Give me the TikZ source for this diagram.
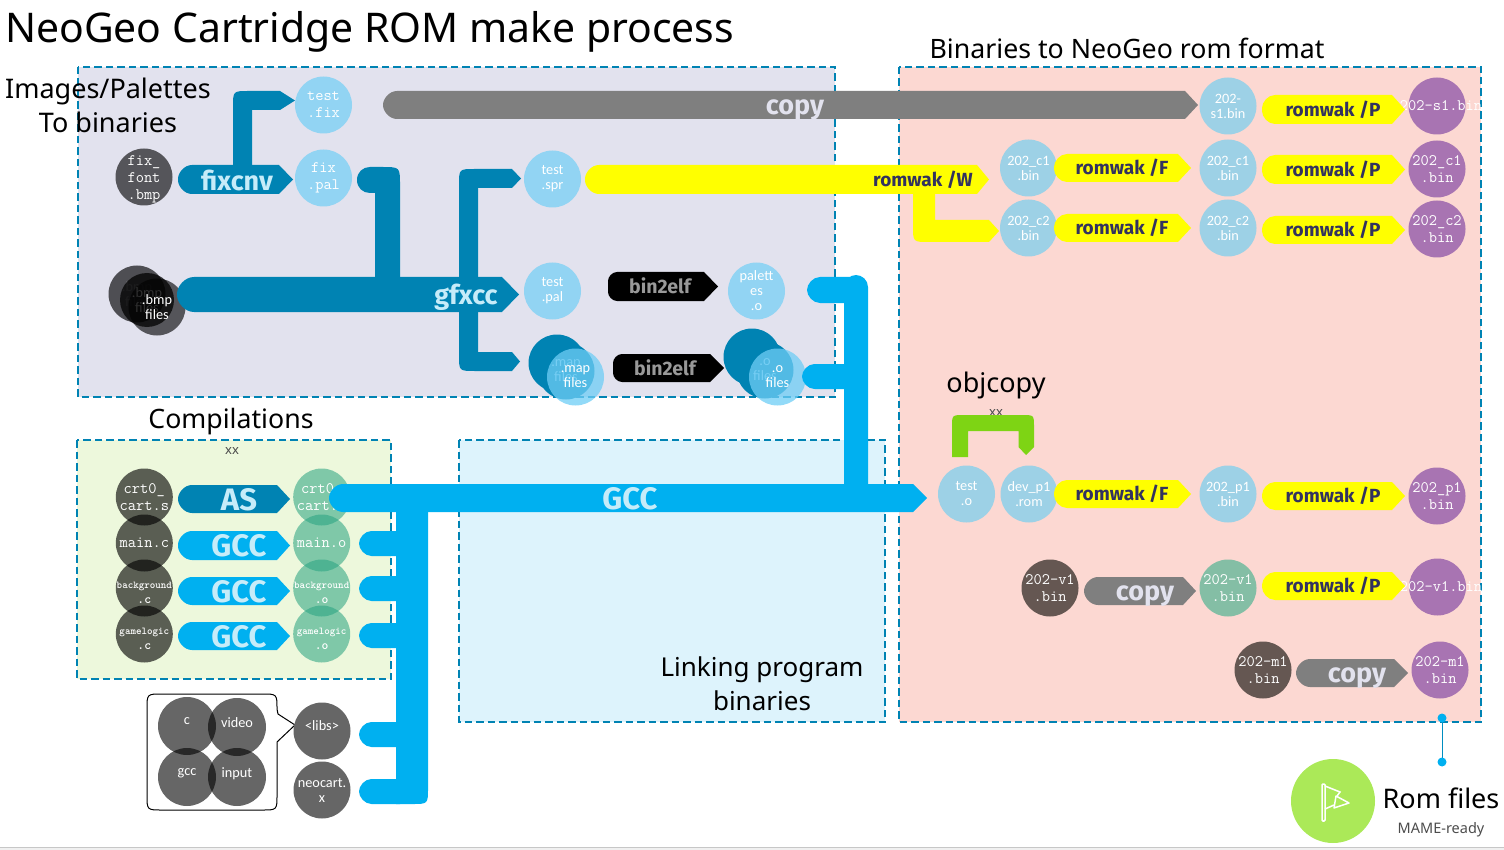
\documentclass[tikz,border=0pt]{standalone}
\usepackage{fontspec}
\setmainfont{Carlito}
\newfontfamily\titlef{Noto Sans}
\newfontfamily\handf{Fira Sans}[BoldFont=Fira Sans Bold]
\usetikzlibrary{calc}
\definecolor{bdeep}{HTML}{0083B3}
\definecolor{bsky}{HTML}{00B0F0}
\definecolor{bpale}{HTML}{92D4F3}
\definecolor{bsoft}{HTML}{9DD1E6}
\definecolor{purp}{HTML}{A874B2}
\definecolor{brn}{HTML}{655752}
\definecolor{grn}{HTML}{84BEA5}
\definecolor{gry}{HTML}{7F7F7F}
\definecolor{navy}{HTML}{32325F}
\definecolor{lim}{HTML}{7ED414}
\definecolor{yel}{HTML}{FFFF00}
\definecolor{pa}{HTML}{E2E2EE}
\definecolor{pb}{HTML}{FCD8D2}
\definecolor{pc}{HTML}{EDF8DC}
\definecolor{pd}{HTML}{DDF3FC}
\definecolor{lab}{HTML}{C6ECF9}
\definecolor{glass}{RGB}{110,205,245}
\definecolor{objg}{RGB}{41,164,129}
\definecolor{romg}{HTML}{ABE958}
\newcommand{\bigdot}[1]{{\fontsize{13}{15}\selectfont #1}}
\tikzset{
  panel/.style={draw=bdeep,line width=2.2pt,dash pattern=on 7.5pt off 4pt},
  bub/.style={circle,minimum size=57pt,inner sep=0pt,align=center,text=white,font=\fontsize{14.3}{15}\selectfont},
  mono/.style={bub,font=\ttfamily\fontsize{16}{17}\selectfont},
  monos/.style={inner sep=0pt,align=center,text=white,font=\ttfamily\bfseries\fontsize{10.5}{15}\selectfont},
  monot/.style={inner sep=0pt,align=center,text=white,font=\ttfamily\fontsize{16}{17}\selectfont},
  head/.style={font=\titlef\fontsize{27}{34}\selectfont,align=center,text=black,inner sep=0pt},
  hand/.style={font=\handf\bfseries\fontsize{31}{31}\selectfont,inner sep=0pt,text=lab},
  handm/.style={font=\handf\bfseries\fontsize{27}{27}\selectfont,inner sep=0pt,text=lab},
  bine/.style={font=\handf\bfseries\fontsize{19.5}{20}\selectfont,inner sep=0pt,text=black!40},
  handy/.style={font=\handf\bfseries\fontsize{19}{19}\selectfont,inner sep=0pt,text=navy},
  tiny/.style={font=\titlef\fontsize{13}{13}\selectfont,text=black!70,inner sep=0pt},
  dk/.style={fill=black,fill opacity=.62,text opacity=1},
  ob/.style={fill=objg,fill opacity=.56,text opacity=1},
}
% rounded-left block arrow: colour, x1, shoulder, tip, ytop, ybot, radius
\newcommand{\blockarrow}[7]{%
  \pgfmathsetmacro{\xa}{#2+#7}\pgfmathsetmacro{\xb}{#2+.45*#7}%
  \pgfmathsetmacro{\ymid}{(#5+#6)/2}%
  \pgfmathsetmacro{\yb}{#5+.55*#7}\pgfmathsetmacro{\yc}{#5+#7}%
  \pgfmathsetmacro{\yd}{#6-#7}\pgfmathsetmacro{\ye}{#6-.55*#7}%
  \fill[#1] (\xa,#5) -- (#3,#5) -- (#4,\ymid) -- (#3,#6) -- (\xa,#6)
    .. controls (\xb,#6) and (#2,\ye) .. (#2,\yd) -- (#2,\yc)
    .. controls (#2,\yb) and (\xb,#5) .. (\xa,#5) -- cycle;}
% bar with rounded left end: colour, x1, x2, ytop, ybot, radius
\newcommand{\capbar}[6]{%
  \pgfmathsetmacro{\xa}{#2+#6}\pgfmathsetmacro{\xb}{#2+.45*#6}%
  \pgfmathsetmacro{\yb}{#4+.55*#6}\pgfmathsetmacro{\yc}{#4+#6}%
  \pgfmathsetmacro{\yd}{#5-#6}\pgfmathsetmacro{\ye}{#5-.55*#6}%
  \fill[#1] (\xa,#4) -- (#3,#4) -- (#3,#5) -- (\xa,#5)
    .. controls (\xb,#5) and (#2,\ye) .. (#2,\yd) -- (#2,\yc)
    .. controls (#2,\yb) and (\xb,#4) .. (\xa,#4) -- cycle;}
\begin{document}
\begin{tikzpicture}[x=1pt,y=-1pt]
\useasboundingbox (0,0) rectangle (1504,850);
% bottom edge
\fill[black!6] (0,848) rectangle (1504,850);
\draw[black!22,line width=1pt] (0,847.5) -- (1504,847.5);
% panels
\draw[panel,fill=pa] (78,67) rectangle (835,397);
\draw[panel,fill=pb] (899,67) rectangle (1481,722);
\draw[panel,fill=pc] (77,440) rectangle (391,679);
\draw[panel,fill=pd] (459,440) rectangle (885,722);
% headings
\node[anchor=base west,font=\titlef\fontsize{40.9}{40}\selectfont,inner sep=0pt] (title) at (5,43) {NeoGeo Cartridge ROM make process};
\node[head] (himg) at (108,105) {Images/Palettes\\To binaries};
\node[head,font=\titlef\fontsize{26.7}{34}\selectfont] (hbin) at (1127,48) {Binaries to NeoGeo rom format};
\node[head,font=\titlef\fontsize{26.7}{34}\selectfont] (hcomp) at (231,422) {Compilations};
\node[head,font=\titlef\fontsize{26}{34}\selectfont] (hlink) at (762,684) {Linking program\\binaries};
\node[head] (hobj) at (996,385) {objcopy};
\node[tiny] (xxa) at (232,451) {xx};
\node[tiny] (xxb) at (996,413) {xx};
% image side circles
\node[bub,dk] (fixfont) at (144,177) {};
\node[monot] (fixfontt) at (144,179) {fix\_\\font\\.bmp};
\node[mono,fill=bpale] (testfix) at (323.5,105) {test\\.fix};
\node[mono,fill=bpale] (fixpal) at (323.5,178) {fix\\.pal};
\node[bub,fill=bpale] (testspr) at (552.5,179) {test\\.spr};
\node[bub,fill=bpale] (testpal) at (552.5,291) {test\\.pal};
\node[bub,fill=bpale] (palo) at (756.5,291) {palett\\es\\.o};
\node[bub,fill=black,fill opacity=.65,text opacity=.2] (bmpa) at (137,294) {.bmp\\files};
\node[bub,fill=black,fill opacity=.75,text opacity=.45,minimum size=54pt] (bmpb) at (147,300) {.bmp\\files};
\node[bub,fill=black,fill opacity=.62,text opacity=1] (bmpc) at (157,307) {.bmp\\files};
\node[bub,fill=bdeep] (mapa) at (557,363) {};
\node[bub,fill=bdeep,text opacity=1,text=bpale] (mapb) at (566,371) {.map\\files};
\node[bub,fill=glass,fill opacity=.75,text opacity=1] (mapc) at (575.5,377) {.map\\files};
\node[bub,fill=bdeep] (oa) at (752,357) {};
\node[bub,fill=bdeep,text=bpale] (ob) at (765,370) {.o\\files};
\node[bub,fill=glass,fill opacity=.75,text opacity=1] (oc) at (777.5,377) {.o\\files};
% compile circles
\node[mono,dk] (scrt) at (144.3,497) {crt0\_\\cart.s};
\node[mono,dk] (smain) at (144.3,543) {main.c};
\node[bub,dk] (sbg) at (144.3,588) {};
\node[monos] (sbgt) at (144.3,593) {background\\\bigdot{.c}};
\node[bub,dk] (sgl) at (144.3,634) {};
\node[monos] (sglt) at (144.3,638.5) {gamelogic\\\bigdot{.c}};
\node[mono,ob] (ocrt) at (321.7,497) {crt0\_\\cart.o};
\node[mono,ob] (omain) at (321.7,543) {main.o};
\node[bub,ob] (obg) at (321.7,588) {};
\node[monos] (obgt) at (321.7,593) {background\\\bigdot{.o}};
\node[bub,ob] (ogl) at (321.7,634) {};
\node[monos] (oglt) at (321.7,638.5) {gamelogic\\\bigdot{.o}};
% callout and libs
\draw[black,line width=1pt,fill=white] (162,694) -- (262,694) .. controls (277,694) .. (277,709) -- (278,714) -- (295,725) -- (277,742) -- (277,795) .. controls (277,810) .. (262,810) -- (162,810) .. controls (147,810) .. (147,795) -- (147,709) .. controls (147,694) .. (162,694) -- cycle;
\foreach \nm/\xx/\yy/\txt in {lc/187/726/c,lv/237/727/video,lg/187/777/gcc,li/237/777/input}{
  \node[bub,fill=black,fill opacity=.6,text opacity=1,minimum size=58pt] (\nm) at (\xx,\yy) {\raisebox{9pt}{\txt}};}
\node[bub,fill=black!60] (libs) at (322,731) {\raisebox{10pt}{<libs>}};
\node[bub,fill=black!60] (neo) at (322,790) {neocart.\\x};
% right side circles
\node[bub,fill=bsoft] (s1a) at (1228,106) {202-\\s1.bin};
\node[bub,fill=purp] (s1b) at (1437,106) {};
\node[monot] (s1bt) at (1441,106) {202-s1.bin};
\node[bub,fill=bsoft] (c1a) at (1028.5,168) {202\_c1\\.bin};
\node[bub,fill=bsoft] (c1b) at (1228,168) {202\_c1\\.bin};
\node[mono,fill=purp] (c1c) at (1437,169) {202\_c1\\.bin};
\node[bub,fill=bsoft] (c2a) at (1028.5,228) {202\_c2\\.bin};
\node[bub,fill=bsoft] (c2b) at (1228,228) {202\_c2\\.bin};
\node[mono,fill=purp] (c2c) at (1437,229) {202\_c2\\.bin};
\node[bub,fill=bsoft] (testo) at (966.5,494) {test\\.o};
\node[bub,fill=bsoft] (devp) at (1029,494) {dev\_p1\\.rom};
\node[bub,fill=bsoft] (p1a) at (1228,494) {202\_p1\\.bin};
\node[mono,fill=purp] (p1b) at (1437,496) {202\_p1\\.bin};
\node[mono,fill=brn] (v1a) at (1050,588) {202-v1\\.bin};
\node[mono,fill=grn] (v1b) at (1228,588) {202-v1\\.bin};
\node[bub,fill=purp] (v1c) at (1437.5,587) {};
\node[monot] (v1ct) at (1441,587) {202-v1.bin};
\node[mono,fill=brn] (m1a) at (1263,670) {202-m1\\.bin};
\node[mono,fill=purp] (m1b) at (1440,670) {202-m1\\.bin};
% fixcnv
\blockarrow{bdeep}{178}{279}{293}{165}{194}{14}
\fill[bdeep] (233,170) -- (233,107) .. controls (233,91) .. (249,91) -- (280,91) -- (295,100.5) -- (280,110) -- (252,110) -- (252,170) -- cycle;
\node[handm] (lfix) at (237,180) {fixcnv};
% gfxcc
\fill[bdeep] (357,180) .. controls (357,172) and (363,167) .. (370,167) -- (382,167) .. controls (400,167) .. (400,185) -- (400,280) -- (375,280) -- (375,193) -- (370,193) .. controls (363,193) and (357,188) .. (357,180) -- cycle;
\fill[bdeep] (459,280) -- (459,185) .. controls (459,169) .. (475,169) -- (512,169) -- (521,178.5) -- (512,188) -- (478,188) -- (478,280) -- cycle;
\fill[bdeep] (459,305) -- (459,355) .. controls (459,371) .. (475,371) -- (512,371) -- (520,361.5) -- (512,352) -- (478,352) -- (478,305) -- cycle;
\blockarrow{bdeep}{177}{502}{519}{277}{312}{17}
\node[handm] (lgfx) at (466,297) {gfxcc};
% bin2elf
\blockarrow{black}{608}{704}{718}{272}{301}{9}
\node[bine] (lba) at (660,286) {bin2elf};
\blockarrow{black}{613}{710}{724}{354}{382}{9}
\node[bine] (lbb) at (665,368) {bin2elf};
% compile arrows
\blockarrow{bdeep}{178}{277}{290}{485}{513}{14}
\node[hand] (las) at (239,500) {AS};
\blockarrow{bsky}{178}{277}{290}{531}{560}{14}
\node[hand] (lg1) at (239,546) {GCC};
\blockarrow{bsky}{178}{277}{290}{577}{605}{14}
\node[hand] (lg2) at (239,592) {GCC};
\blockarrow{bsky}{178}{277}{290}{622}{650}{14}
\node[hand] (lg3) at (239,637) {GCC};
% linking bus
\fill[bsky] (396,505) -- (428,505) -- (428,788) .. controls (428,804) .. (412,804) -- (396,804) -- cycle;
\capbar{bsky}{359}{400}{531}{556}{12.5}
\capbar{bsky}{359}{400}{576}{601}{12.5}
\capbar{bsky}{359}{400}{623}{648}{12.5}
\capbar{bsky}{359}{400}{722}{747}{12.5}
\capbar{bsky}{359}{400}{779}{804}{12.5}
\capbar{bsky}{807}{850}{277}{303}{13}
\capbar{bsky}{802}{850}{364}{389}{12.5}
\fill[bsky] (844,490) -- (844,287) .. controls (844,280) and (850,275) .. (856,275) .. controls (862,275) and (868,280) .. (868,287) -- (868,490) -- cycle;
\blockarrow{bsky}{329}{913}{927}{484}{512}{14}
\node[hand] (lgcc) at (630,499) {GCC};
% copy
\blockarrow{gry}{383}{1185}{1198}{91}{119}{14}
\node[handm,text=pa] (lcopy) at (795,110) {copy};
\blockarrow{gry}{1084}{1183}{1196}{577}{605}{14}
\node[handm,text=pa] (lcv) at (1145,596) {copy};
\blockarrow{gry}{1296}{1394}{1408}{659}{687}{14}
\node[handm,text=pa] (lcm) at (1357,678) {copy};
% yellow
\blockarrow{yel}{585}{977}{989}{165}{194}{14}
\fill[yel] (913,190) -- (913,226) .. controls (913,242) .. (929,242) -- (989,242) -- (999,231) -- (989,220) -- (935,220) -- (935,190) -- cycle;
\node[handy] (lw) at (923,180) {romwak /W};
\foreach \nm/\ta/\tb/\tl in {fa/154/182/168,fb/214/242/228,fc/480/508/494}{
  \blockarrow{yel}{1054}{1178}{1191}{\ta}{\tb}{13}
  \node[handy] (\nm) at (1122,\tl) {romwak /F};}
\foreach \nm/\ta/\tb/\tl in {pta/95/124/109.5,ptb/155/184/169.5,ptc/216/244/230,ptd/482/510/496,pte/572/600/586}{
  \blockarrow{yel}{1262}{1392}{1405}{\ta}{\tb}{13}
  \node[handy] (\nm) at (1333,\tl) {romwak /P};}
% objcopy arrow
\fill[lim] (952,457) -- (952,427) .. controls (952,415) .. (964,415) -- (1022,415) .. controls (1034,415) .. (1034,427) -- (1034,447) -- (1026,455) -- (1018.5,447) -- (1018.5,431) -- (968,431) -- (968,457) -- cycle;
% rom files
\coordinate (dtop) at (1442,718);
\coordinate (dbot) at (1442,762);
\draw[bsky!80!black,line width=1pt] (dtop) -- (dbot);
\fill[bsky] (dtop) circle (4.5pt) (dbot) circle (4.5pt);
\node[circle,fill=romg,minimum size=84pt,inner sep=0pt] (rom) at (1333,801) {};
\draw[white,line width=1.5pt,rounded corners=1pt] (1322,784) rectangle (1325,821);
\draw[white,line width=1.5pt] (1325,786) -- (1340,792) -- (1337,796) (1325,809) -- (1334,805);
\draw[white,line width=1.5pt,line join=round] (1336,796) -- (1349,803) -- (1334,808) -- cycle;
\node[anchor=base,font=\titlef\fontsize{27}{27}\selectfont,inner sep=0pt] (lrom) at (1441,808) {Rom files};
\node[anchor=base,font=\titlef\fontsize{14.5}{15}\selectfont,text=black!70,inner sep=0pt] (lmame) at (1441,833) {MAME-ready};
\end{tikzpicture}
\end{document}
